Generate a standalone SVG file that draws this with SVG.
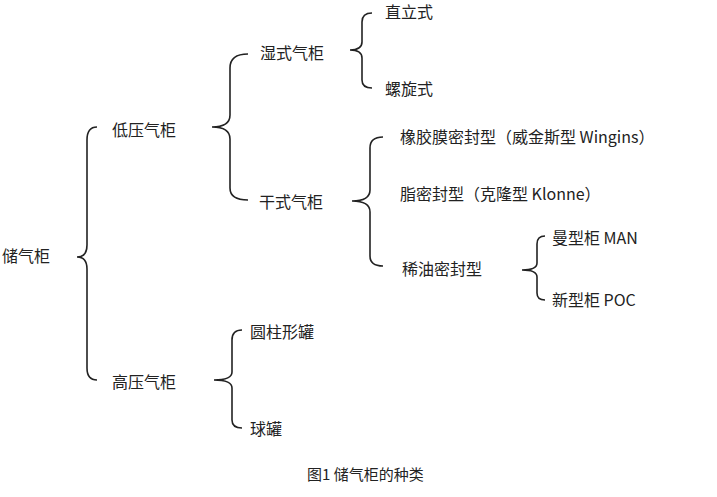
<svg xmlns="http://www.w3.org/2000/svg" width="717" height="497" viewBox="0 0 717 497">
<style>
text{font-family:"Noto Sans CJK SC","Liberation Sans",sans-serif;font-size:16px;fill:#222}
.b{fill:none;stroke:#222;stroke-width:1.6}
</style>
<rect width="717" height="497" fill="#fff"/>
<g id="connectors">
<path class="b" d="M97,127 Q87,127 87,140 L87,245 Q87,257 77,257 Q87,257 87,269 L87,368 Q87,380 97,380"/>
<path class="b" d="M248,54 Q230,54 230,68 L230,115 Q230,127 212,127 Q230,127 230,139 L230,188 Q230,200 248,200"/>
<path class="b" d="M372,13 Q362,13 362,22 L362,42 Q362,50 350,50 Q362,50 362,58 L362,80 Q362,88 372,88"/>
<path class="b" d="M383,137 Q370,137 370,148 L370,190 Q370,201 352,201 Q370,201 370,212 L370,256 Q370,266 383,266"/>
<path class="b" d="M545,236 Q537,236 537,244 L537,263 Q537,270 522,270 Q537,270 537,277 L537,293 Q537,300 545,300"/>
<path class="b" d="M242,330 Q232,330 232,340 L232,372 Q232,380 214,380 Q232,380 232,388 L232,420 Q232,428 242,428"/>
</g>
<g id="n0"><text x="2" y="262">储气柜</text></g>
<g id="n1"><text x="112" y="136">低压气柜</text></g>
<g id="n2"><text x="112" y="388">高压气柜</text></g>
<g id="n3"><text x="260" y="59">湿式气柜</text></g>
<g id="n4"><text x="259" y="208">干式气柜</text></g>
<g id="n5"><text x="385" y="18">直立式</text></g>
<g id="n6"><text x="385" y="95">螺旋式</text></g>
<g id="n7"><text x="400" y="143">橡胶膜密封型（威金斯型 Wingins）</text></g>
<g id="n8"><text x="400" y="200">脂密封型（克隆型 Klonne）</text></g>
<g id="n9"><text x="402" y="275">稀油密封型</text></g>
<g id="n10"><text x="552" y="244">曼型柜 MAN</text></g>
<g id="n11"><text x="552" y="306">新型柜  POC</text></g>
<g id="n12"><text x="250" y="338">圆柱形罐</text></g>
<g id="n13"><text x="250" y="435">球罐</text></g>
<text x="307" y="480" style="font-size:15px">图1  储气柜的种类</text>
</svg>
